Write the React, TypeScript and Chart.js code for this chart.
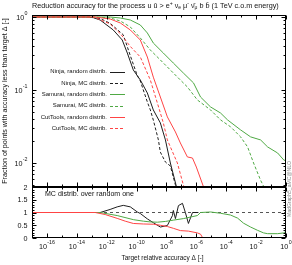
import { useEffect, useRef } from "react";
import { Chart, registerables } from "chart.js";

Chart.register(...registerables);

const FONT = '"Liberation Sans", "DejaVu Sans", Arial, sans-serif';

// ---------- axis ticks ----------
const xMajorExp = [-16, -14, -12, -10, -8, -6, -4, -2, 0];
const xMinorExp = [-17, -15, -13, -11, -9, -7, -5, -3, -1];
const fracMajorExp = [-2, -1, 0];
const ratioTicks = [0, 0.5, 1, 1.5, 2];
const ratioTickLabels = ["0", "0.5", "1", "1.5", "2"];

// ---------- series (x given as log10 of target accuracy) ----------
const ninjaRandomLogD = [-17, -13.44, -12.9, -12.44, -11.56, -10.96, -10.62, -10.22, -9.75, -9.28, -8.88, -8.41, -8.07, -7.74, -7.34, -7.2];
const ninjaRandomFrac = [1, 1, 0.98, 0.91, 0.664, 0.484, 0.321, 0.188, 0.137, 0.091, 0.0533, 0.0354, 0.0207, 0.01, 0.0048, 0.0035];

const ninjaMCLogD = [-17, -13.11, -12.44, -11.77, -10.89, -10.42, -9.95, -9.75, -9.55, -9.28, -9.08, -8.88, -8.54, -8.41, -8.07, -7.74, -7.4, -7.2];
const ninjaMCFrac = [1, 1, 0.954, 0.82, 0.57, 0.295, 0.157, 0.133, 0.1, 0.0686, 0.0533, 0.0387, 0.0207, 0.0141, 0.0103, 0.0091, 0.005, 0.0036];

const samuraiRandomLogD = [-17, -11.77, -11.09, -10.42, -9.75, -9.28, -8.88, -8.21, -7.54, -6.87, -6.19, -5.72, -5.05, -4.38, -3.91, -3.04, -2.37, -1.7, -1.23, -0.56, -0.15, 0];
const samuraiRandomFrac = [1, 1, 0.969, 0.91, 0.777, 0.604, 0.44, 0.321, 0.234, 0.171, 0.125, 0.0801, 0.0586, 0.0484, 0.0389, 0.0284, 0.0228, 0.0207, 0.0166, 0.0137, 0.011, 0.0107];

const samuraiMCLogD = [-17, -12.77, -11.77, -11.09, -10.42, -9.75, -9.08, -8.41, -7.54, -6.6, -5.93, -5.05, -4.38, -3.71, -3.04, -2.57, -2.17, -1.7, -1.5, -1.3];
const samuraiMCFrac = [1, 1, 0.969, 0.882, 0.73, 0.516, 0.353, 0.258, 0.171, 0.11, 0.073, 0.0533, 0.0389, 0.0313, 0.0228, 0.0166, 0.01, 0.0058, 0.0048, 0.0036];

const cutToolsRandomLogD = [-17, -12.77, -11.77, -11.09, -10.42, -9.75, -9.28, -8.88, -8.41, -7.94, -7.4, -7.07, -6.6, -6.26, -6.0, -5.52, -5.32];
const cutToolsRandomFrac = [1, 1, 0.939, 0.828, 0.664, 0.484, 0.283, 0.15, 0.0801, 0.0428, 0.0266, 0.0188, 0.0121, 0.0117, 0.0088, 0.0047, 0.0036];

const cutToolsMCLogD = [-17, -12.9, -11.77, -11.09, -10.42, -9.75, -9.08, -8.61, -8.21, -7.94, -7.74, -7.27, -6.87, -6.6];
const cutToolsMCFrac = [1, 1, 0.802, 0.592, 0.395, 0.283, 0.137, 0.0664, 0.0354, 0.0207, 0.0166, 0.01, 0.005, 0.0036];

// ratio MC / random
const ninjaRatioLogD = [-17, -12.44, -11.77, -11.3, -10.89, -10.42, -9.95, -9.75, -9.28, -8.88, -8.41, -7.94, -7.6, -7.54, -7.4, -7.2, -6.93, -6.73, -6.53, -6.26, -5.86];
const ninjaRatio = [1, 1, 1.12, 1.22, 1.28, 1.22, 1.02, 0.96, 0.75, 0.6, 0.43, 0.49, 0.88, 1.08, 0.76, 1.27, 1.36, 0.99, 0.57, 1.0, 1.0];

const samuraiRatioLogD = [-17, -12.44, -11.3, -10.22, -9.55, -9.08, -8.61, -8.07, -7.54, -6.87, -5.93, -5.72, -5.05, -4.38, -3.71, -3.24, -2.84, -2.37, -1.9, -1.5, -1.23, -0.56, -0.15, 0];
const samuraiRatio = [1, 1, 0.88, 0.72, 0.66, 0.63, 0.62, 0.65, 0.7, 0.76, 0.88, 1.0, 1.02, 0.97, 0.9, 0.78, 0.58, 0.43, 0.3, 0.2, 0.17, 0.17, 0.2, 0.27];

const cutToolsRatioLogD = [-17, -12.77, -12.1, -11.3, -10.76, -10.22, -9.55, -8.88, -8.41, -7.94, -7.54, -7.07, -6.53, -5.93, -5.72, -5.59];
const cutToolsRatio = [1, 1, 0.92, 0.77, 0.66, 0.57, 0.55, 0.54, 0.5, 0.45, 0.38, 0.29, 0.27, 0.2, 0.15, 0.02];

const referenceLineLogD = [-17, 0];
const referenceLineRatio = [1, 1];

const legendLabels = [
  "Ninja, random distrib.",
  "Ninja, MC distrib.",
  "Samurai, random distrib.",
  "Samurai, MC distrib.",
  "CutTools, random distrib.",
  "CutTools, MC distrib.",
];

const BLACK = "#1e1e1e";
const GREEN = "#4fa944";
const RED = "#ff4444";
const DASH = [3, 2];

const pts = (logD: number[], vals: number[]) => logD.map((e, i) => ({ x: Math.pow(10, e), y: vals[i] }));

// later entries are drawn on top (as in the reference), so order decreases with index
const ds = (label: string, data: any[], color: string, dashed: boolean, order: number) => ({
  label,
  data,
  order,
  borderColor: color,
  backgroundColor: color,
  borderWidth: 1,
  borderDash: dashed ? DASH : [],
  pointRadius: 0,
  fill: false,
  tension: 0,
});

function frameAndTicks(chart: any, yMajor: number[], yMinor: number[]) {
  const { ctx, chartArea: a, scales } = chart;
  const xs = scales.x;
  const ys = scales.y;
  const L = a.left + 0.5, R = a.right - 0.5, T = a.top + 0.5, B = a.bottom - 0.5;
  ctx.save();
  ctx.strokeStyle = "#000";
  ctx.lineWidth = 1;
  ctx.setLineDash([]);
  ctx.beginPath();
  const vt = (v: number, len: number) => {
    const p = Math.round(xs.getPixelForValue(v)) + 0.5;
    ctx.moveTo(p, B);
    ctx.lineTo(p, B - len);
    ctx.moveTo(p, T);
    ctx.lineTo(p, T + len);
  };
  const ht = (v: number, len: number) => {
    const p = Math.round(ys.getPixelForValue(v)) + 0.5;
    ctx.moveTo(L, p);
    ctx.lineTo(L + len, p);
    ctx.moveTo(R, p);
    ctx.lineTo(R - len, p);
  };
  xMajorExp.forEach((e) => vt(Math.pow(10, e), 4));
  xMinorExp.forEach((e) => vt(Math.pow(10, e), 2));
  yMajor.forEach((v) => ht(v, 4));
  yMinor.forEach((v) => ht(v, 2));
  ctx.stroke();
  ctx.strokeRect(L, T, R - L, B - T);
  ctx.restore();
}

function powLabel(ctx: CanvasRenderingContext2D, x: number, y: number, exp: number, align: "center" | "right") {
  const base = "10";
  const sup = String(exp);
  ctx.font = `7.2px ${FONT}`;
  const w1 = ctx.measureText(base).width;
  ctx.font = `5.3px ${FONT}`;
  const w2 = ctx.measureText(sup).width;
  const total = w1 + w2 + 0.4;
  const x0 = align === "center" ? x - total / 2 : x - total;
  ctx.textAlign = "left";
  ctx.textBaseline = "alphabetic";
  ctx.font = `7.2px ${FONT}`;
  ctx.fillText(base, x0, y);
  ctx.font = `5.3px ${FONT}`;
  ctx.fillText(sup, x0 + w1 + 0.4, y - 4.5);
}

function fitFont(ctx: CanvasRenderingContext2D, text: string, width: number) {
  ctx.font = `10px ${FONT}`;
  return (10 * width) / ctx.measureText(text).width;
}

const titleParts: { t: string; k: number }[] = [
  { t: "Reduction accuracy for the process u ū > e", k: 0 },
  { t: "+", k: 1 },
  { t: " ν", k: 0 },
  { t: "e", k: -1 },
  { t: " μ", k: 0 },
  { t: "-", k: 1 },
  { t: " ν̄", k: 0 },
  { t: "μ", k: -1 },
  { t: " b b̄ (1 TeV c.o.m energy)", k: 0 },
];

const topDecor = {
  id: "topDecor",
  afterDraw(chart: any) {
    const ctx: CanvasRenderingContext2D = chart.ctx;
    const ys = chart.scales.y;
    const minor: number[] = [];
    for (let d = -3; d <= 0; d++) for (let m = 2; m <= 9; m++) {
      const v = m * Math.pow(10, d);
      if (v > ys.min && v < ys.max) minor.push(v);
    }
    frameAndTicks(chart, fracMajorExp.map((e) => Math.pow(10, e)), minor);
    ctx.save();
    ctx.fillStyle = "#111";
    // y tick labels
    fracMajorExp.forEach((e) => {
      const p = ys.getPixelForValue(Math.pow(10, e));
      powLabel(ctx, 27.5, p + 2.6, e, "right");
    });
    // title
    const measure = (s: number) => {
      let w = 0;
      titleParts.forEach((p) => {
        ctx.font = `${p.k === 0 ? s : s * 0.7}px ${FONT}`;
        w += ctx.measureText(p.t).width;
      });
      return w;
    };
    const ts = (10 * 247) / measure(10);
    let tx = 32;
    titleParts.forEach((p) => {
      const s = p.k === 0 ? ts : ts * 0.7;
      ctx.font = `${s}px ${FONT}`;
      ctx.textAlign = "left";
      ctx.textBaseline = "alphabetic";
      const dy = p.k === 1 ? -ts * 0.38 : p.k === -1 ? ts * 0.22 : 0;
      ctx.fillText(p.t, tx, 7.6 + dy);
      tx += ctx.measureText(p.t).width;
    });
    // y axis title
    const yt = "Fraction of points with accuracy less than target Δ [-]";
    const yfs = fitFont(ctx, yt, 166);
    ctx.save();
    ctx.translate(5, (chart.chartArea.top + chart.chartArea.bottom) / 2);
    ctx.rotate(-Math.PI / 2);
    ctx.font = `${yfs}px ${FONT}`;
    ctx.textAlign = "center";
    ctx.textBaseline = "middle";
    ctx.fillText(yt, 0, 0);
    ctx.restore();
    // legend
    const sets = chart.data.datasets;
    legendLabels.forEach((lab, i) => {
      const y = 71.6 + i * 11.35;
      ctx.font = `6px ${FONT}`;
      ctx.textAlign = "right";
      ctx.textBaseline = "middle";
      ctx.fillStyle = "#111";
      ctx.fillText(lab, 107, y);
      const d = sets[i];
      ctx.beginPath();
      ctx.strokeStyle = d.borderColor;
      ctx.lineWidth = 1;
      ctx.setLineDash(d.borderDash);
      ctx.moveTo(110, Math.round(y) + 0.5);
      ctx.lineTo(125, Math.round(y) + 0.5);
      ctx.stroke();
      ctx.setLineDash([]);
    });
    ctx.restore();
  },
};

const bottomDecor = {
  id: "bottomDecor",
  afterDraw(chart: any) {
    const ctx: CanvasRenderingContext2D = chart.ctx;
    const xs = chart.scales.x;
    const ys = chart.scales.y;
    const minor: number[] = [];
    for (let i = 1; i < 20; i++) if (i % 5 !== 0) minor.push(i / 10);
    frameAndTicks(chart, ratioTicks, minor);
    ctx.save();
    ctx.fillStyle = "#111";
    ratioTicks.forEach((v, i) => {
      const p = ys.getPixelForValue(v);
      ctx.font = `7.2px ${FONT}`;
      ctx.textAlign = "right";
      ctx.textBaseline = "alphabetic";
      ctx.fillText(ratioTickLabels[i], 27.5, p + 2.6);
    });
    xMajorExp.forEach((e) => {
      const p = xs.getPixelForValue(Math.pow(10, e));
      powLabel(ctx, p, 248.5, e, "center");
    });
    // panel label
    const pl = "MC distrib. over random one";
    ctx.font = `${fitFont(ctx, pl, 89)}px ${FONT}`;
    ctx.textAlign = "left";
    ctx.textBaseline = "alphabetic";
    ctx.fillText(pl, 45, 195.7);
    // x axis title
    const xt = "Target relative accuracy Δ [-]";
    ctx.font = `${fitFont(ctx, xt, 82)}px ${FONT}`;
    ctx.textAlign = "center";
    ctx.fillText(xt, 162.5, 260);
    // watermark
    const mg = "MadGraph5_aMC@NLO";
    ctx.save();
    ctx.fillStyle = "#8a8a8a";
    ctx.font = `${fitFont(ctx, mg, 56)}px ${FONT}`;
    ctx.translate(289.2, 189);
    ctx.rotate(-Math.PI / 2);
    ctx.textAlign = "center";
    ctx.textBaseline = "middle";
    ctx.fillText(mg, 0, 0);
    ctx.restore();
    ctx.restore();
  },
};

export default function App() {
  const topRef = useRef<HTMLCanvasElement>(null);
  const botRef = useRef<HTMLCanvasElement>(null);

  useEffect(() => {
    const common = {
      responsive: false,
      animation: false as const,
      events: [] as any[],
      plugins: { legend: { display: false }, tooltip: { enabled: false }, title: { display: false } },
    };
    const top = new Chart(topRef.current!, {
      type: "line",
      data: {
        datasets: [
          ds(legendLabels[0], pts(ninjaRandomLogD, ninjaRandomFrac), BLACK, false, 6),
          ds(legendLabels[1], pts(ninjaMCLogD, ninjaMCFrac), BLACK, true, 5),
          ds(legendLabels[2], pts(samuraiRandomLogD, samuraiRandomFrac), GREEN, false, 4),
          ds(legendLabels[3], pts(samuraiMCLogD, samuraiMCFrac), GREEN, true, 3),
          ds(legendLabels[4], pts(cutToolsRandomLogD, cutToolsRandomFrac), RED, false, 2),
          ds(legendLabels[5], pts(cutToolsMCLogD, cutToolsMCFrac), RED, true, 1),
        ] as any,
      },
      options: {
        ...common,
        layout: { padding: { left: 32, right: 6, top: 15, bottom: 78 } },
        scales: {
          x: { type: "logarithmic", min: 1e-17, max: 1, display: false },
          y: { type: "logarithmic", min: 0.00469, max: 1.065, display: false },
        },
      } as any,
      plugins: [topDecor],
    });
    const bot = new Chart(botRef.current!, {
      type: "line",
      data: {
        datasets: [
          ds("Ninja ratio", pts(ninjaRatioLogD, ninjaRatio), BLACK, false, 3),
          ds("Samurai ratio", pts(samuraiRatioLogD, samuraiRatio), GREEN, false, 2),
          ds("CutTools ratio", pts(cutToolsRatioLogD, cutToolsRatio), RED, false, 1),
          { ...ds("unity", pts(referenceLineLogD, referenceLineRatio), "#555", true, 4), borderDash: [3, 3] },
        ] as any,
      },
      options: {
        ...common,
        layout: { padding: { left: 32, right: 6, top: 187, bottom: 27 } },
        scales: {
          x: { type: "logarithmic", min: 1e-17, max: 1, display: false },
          y: { type: "linear", min: 0, max: 2, display: false },
        },
      } as any,
      plugins: [bottomDecor],
    });
    return () => {
      top.destroy();
      bot.destroy();
    };
  }, []);

  return (
    <div style={{ position: "absolute", left: 0, top: 0, width: 292, height: 265, background: "#fff" }}>
      <canvas ref={topRef} width={292} height={265} style={{ position: "absolute", left: 0, top: 0 }} />
      <canvas ref={botRef} width={292} height={265} style={{ position: "absolute", left: 0, top: 0 }} />
    </div>
  );
}
